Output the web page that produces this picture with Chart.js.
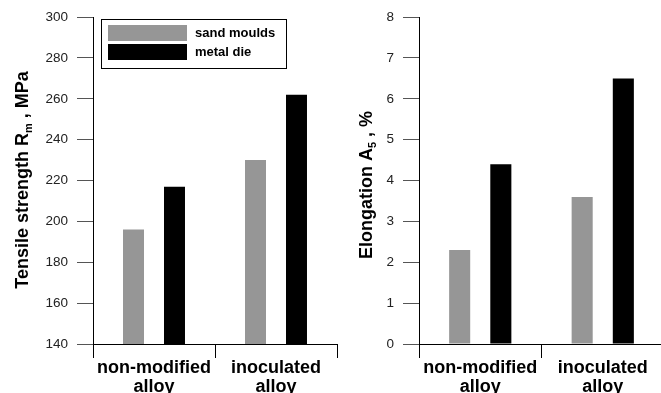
<!DOCTYPE html>
<html>
<head>
<meta charset="utf-8">
<script src="https://cdn.jsdelivr.net/npm/chart.js@4/dist/chart.umd.min.js"></script>
<style>
  html, body { margin: 0; padding: 0; background: #fff; width: 661px; height: 393px; overflow: hidden; }
  #wrap { position: relative; width: 661px; height: 393px; overflow: hidden; }
  canvas { position: absolute; top: 0; }
  #c1 { left: 0; }
  #c2 { left: 330px; }
</style>
</head>
<body>
<div id="wrap">
  <canvas id="c1" width="345" height="393" style="width:345px;height:393px"></canvas>
  <canvas id="c2" width="340" height="393" style="width:340px;height:393px"></canvas>
</div>
<script>
// ---- data ----
const categories = [["non-modified", "alloy"], ["inoculated", "alloy"]];
const seriesNames = ["sand moulds", "metal die"];
const seriesColors = ["#969696", "#000000"];
const tensileSand = [196, 230];
const tensileMetal = [217, 262];
const elongSand = [2.3, 3.6];
const elongMetal = [4.4, 6.5];
const tensileTicks = { min: 140, max: 300, step: 20 };
const elongTicks = { min: 0, max: 8, step: 1 };

const FONT = "'Liberation Sans', Arial, Helvetica, sans-serif";

function rotatedTitle(ctx, cx, cy, parts) {
  ctx.save();
  ctx.translate(cx, cy);
  ctx.rotate(-Math.PI / 2);
  ctx.textBaseline = "alphabetic";
  ctx.textAlign = "left";
  ctx.fillStyle = "#000";
  let total = 0;
  parts.forEach(p => { ctx.font = "bold " + p.size + "px " + FONT; p.w = ctx.measureText(p.text).width; total += p.w; });
  let x = -total / 2;
  parts.forEach(p => {
    ctx.font = "bold " + p.size + "px " + FONT;
    ctx.fillText(p.text, x, 6.5 + (p.dy || 0));
    x += p.w;
  });
  ctx.restore();
}

const titlePlugin = (parts, cx, cy) => ({
  id: "rotTitle",
  afterDraw(chart) { rotatedTitle(chart.ctx, cx, cy, parts); }
});

const legendPlugin = {
  id: "boxLegend",
  afterDraw(chart) {
    const ctx = chart.ctx;
    ctx.save();
    ctx.fillStyle = "#fff";
    ctx.fillRect(101, 19.5, 186, 49);
    ctx.strokeStyle = "#000";
    ctx.lineWidth = 1;
    ctx.strokeRect(101.5, 19.5, 185, 49);
    const rows = [{ y: 25, h: 16 }, { y: 44, h: 16 }];
    chart.data.datasets.forEach((ds, i) => {
      ctx.fillStyle = ds.backgroundColor;
      ctx.fillRect(108, rows[i].y, 79, rows[i].h);
      ctx.fillStyle = "#000";
      ctx.font = "bold 13px " + FONT;
      ctx.textBaseline = "middle";
      ctx.textAlign = "left";
      ctx.fillText(ds.label, 195, rows[i].y + rows[i].h / 2 + 0.5);
    });
    ctx.restore();
  }
};

function makeChart(canvas, sand, metal, tk, yWidth, padRight, plugins) {
  return new Chart(canvas, {
    type: "bar",
    data: {
      labels: categories,
      datasets: [
        { label: seriesNames[0], data: sand, backgroundColor: seriesColors[0], borderWidth: 0 },
        { label: seriesNames[1], data: metal, backgroundColor: seriesColors[1], borderWidth: 0 }
      ]
    },
    options: {
      responsive: false,
      animation: false,
      devicePixelRatio: 1,
      categoryPercentage: 0.672,
      barPercentage: 0.512,
      layout: { padding: { top: 17, right: padRight, left: 0, bottom: 0 } },
      plugins: { legend: { display: false }, tooltip: { enabled: false }, title: { display: false } },
      scales: {
        x: {
          grid: { display: true, drawOnChartArea: false, drawTicks: true, tickLength: 14, color: "#000", lineWidth: 1, offset: true },
          border: { display: true, color: "#000", width: 1 },
          ticks: { color: "#000", font: { family: FONT, size: 18, weight: "bold", lineHeight: 1.05 }, padding: 1, maxRotation: 0, autoSkip: false },
          afterFit(scale) { scale.height = 49; }
        },
        y: {
          min: tk.min, max: tk.max,
          grid: { display: true, drawOnChartArea: false, drawTicks: true, tickLength: 16, color: "#555", lineWidth: 1 },
          border: { display: true, color: "#000", width: 1 },
          ticks: { stepSize: tk.step, color: "#222", font: { family: FONT, size: 13.5 }, padding: 9 },
          afterFit(scale) { scale.width = yWidth; }
        }
      }
    },
    plugins: plugins
  });
}

makeChart(document.getElementById("c1"), tensileSand, tensileMetal, tensileTicks, 93, 8, [
  titlePlugin([{ text: "Tensile strength R", size: 18 }, { text: "m", size: 11, dy: 4 }, { text: " , MPa", size: 18 }], 21.5, 180),
  legendPlugin
]);
makeChart(document.getElementById("c2"), elongSand, elongMetal, elongTicks, 89, 6, [
  titlePlugin([{ text: "Elongation A", size: 18 }, { text: "5", size: 11, dy: 4 }, { text: " , %", size: 18 }], 35.5, 185)
]);
</script>
</body>
</html>
